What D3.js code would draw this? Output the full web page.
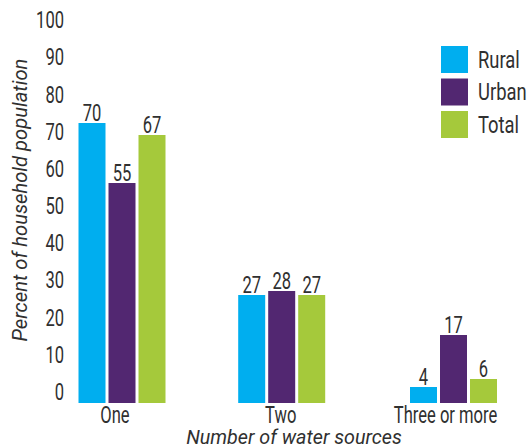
<!DOCTYPE html>
<html>
<head>
<meta charset="utf-8">
<script src="https://cdn.jsdelivr.net/npm/d3@7"></script>
<style>
  html, body { margin: 0; padding: 0; background: #fff; }
  svg text { font-family: Roboto, "Liberation Sans", sans-serif; fill: #303030; }
</style>
</head>
<body>
<svg id="chart" width="527" height="448"></svg>
<script>
// Number of water sources per household, by residence
const categories = ["One", "Two", "Three or more"];
const seriesNames = ["Rural", "Urban", "Total"];
const rural = [70, 27, 4];
const urban = [55, 28, 17];
const total = [67, 27, 6];
const yTickLabels = [0, 10, 20, 30, 40, 50, 60, 70, 80, 90, 100];
const colors = ["#00aeef", "#522771", "#a5c93b"];

const series = [rural, urban, total];
const svg = d3.select("#chart");

// Condensed lettering: squeeze glyphs horizontally around the anchor point
const SX = 0.72;
function label(parent, x, y, txt, opts = {}) {
  const size = opts.size || 23;
  const t = parent.append("text")
    .attr("transform", `translate(${x},${y})${opts.rotate ? ` rotate(${opts.rotate})` : ""} scale(${opts.sx || SX},1)`)
    .attr("text-anchor", opts.anchor || "start")
    .attr("font-size", size)
    .text(txt);
  if (opts.italic) t.attr("font-style", "italic");
  return t;
}

// Bar height scale
const y = d3.scaleLinear().domain([0, 100]).range([403, 3]);
// Axis label placement scale
const yLabel = d3.scaleLinear().domain([0, 100]).range([400, 28.3]);

// Group centres and bar offsets inside each group
const xGroup = d3.scaleOrdinal().domain(categories).range([121, 280.7, 452.5]);
const xInner = d3.scaleBand().domain(seriesNames).range([-42.5, 44.5]).paddingInner(0.1);

// Y tick labels
const yAxis = svg.append("g");
yTickLabels.forEach(d => label(yAxis, 64, yLabel(d), d, {anchor: "end"}));

// Bars and value labels
categories.forEach((cat, ci) => {
  const g = svg.append("g").attr("transform", `translate(${xGroup(cat)},0)`);
  seriesNames.forEach((s, si) => {
    const v = series[si][ci];
    g.append("rect")
      .attr("x", xInner(s))
      .attr("y", y(v))
      .attr("width", xInner.bandwidth())
      .attr("height", y(0) - y(v))
      .attr("fill", colors[si]);
    label(g, xInner(s) + xInner.bandwidth() / 2, y(v) - 2, v, {anchor: "middle"});
  });
});

// Category labels
const catOffset = {"One": -6, "Two": 0, "Three or more": -7};
const xAxis = svg.append("g");
categories.forEach(d => label(xAxis, xGroup(d) + catOffset[d], 423, d, {anchor: "middle"}));

// Axis titles
label(svg, 294, 444, "Number of water sources", {anchor: "middle", italic: true, size: 21, sx: 0.94});
label(svg, 27, 200, "Percent of household population", {anchor: "middle", italic: true, size: 21, sx: 0.96, rotate: -90});

// Legend
const legend = svg.append("g").attr("transform", "translate(441,46)");
seriesNames.forEach((s, i) => {
  const row = legend.append("g").attr("transform", `translate(0,${i * 32.5})`);
  row.append("rect").attr("width", 27).attr("height", 27).attr("fill", colors[i]);
  label(row, 37, 21.5, s, {sx: 0.8});
});
</script>
</body>
</html>
